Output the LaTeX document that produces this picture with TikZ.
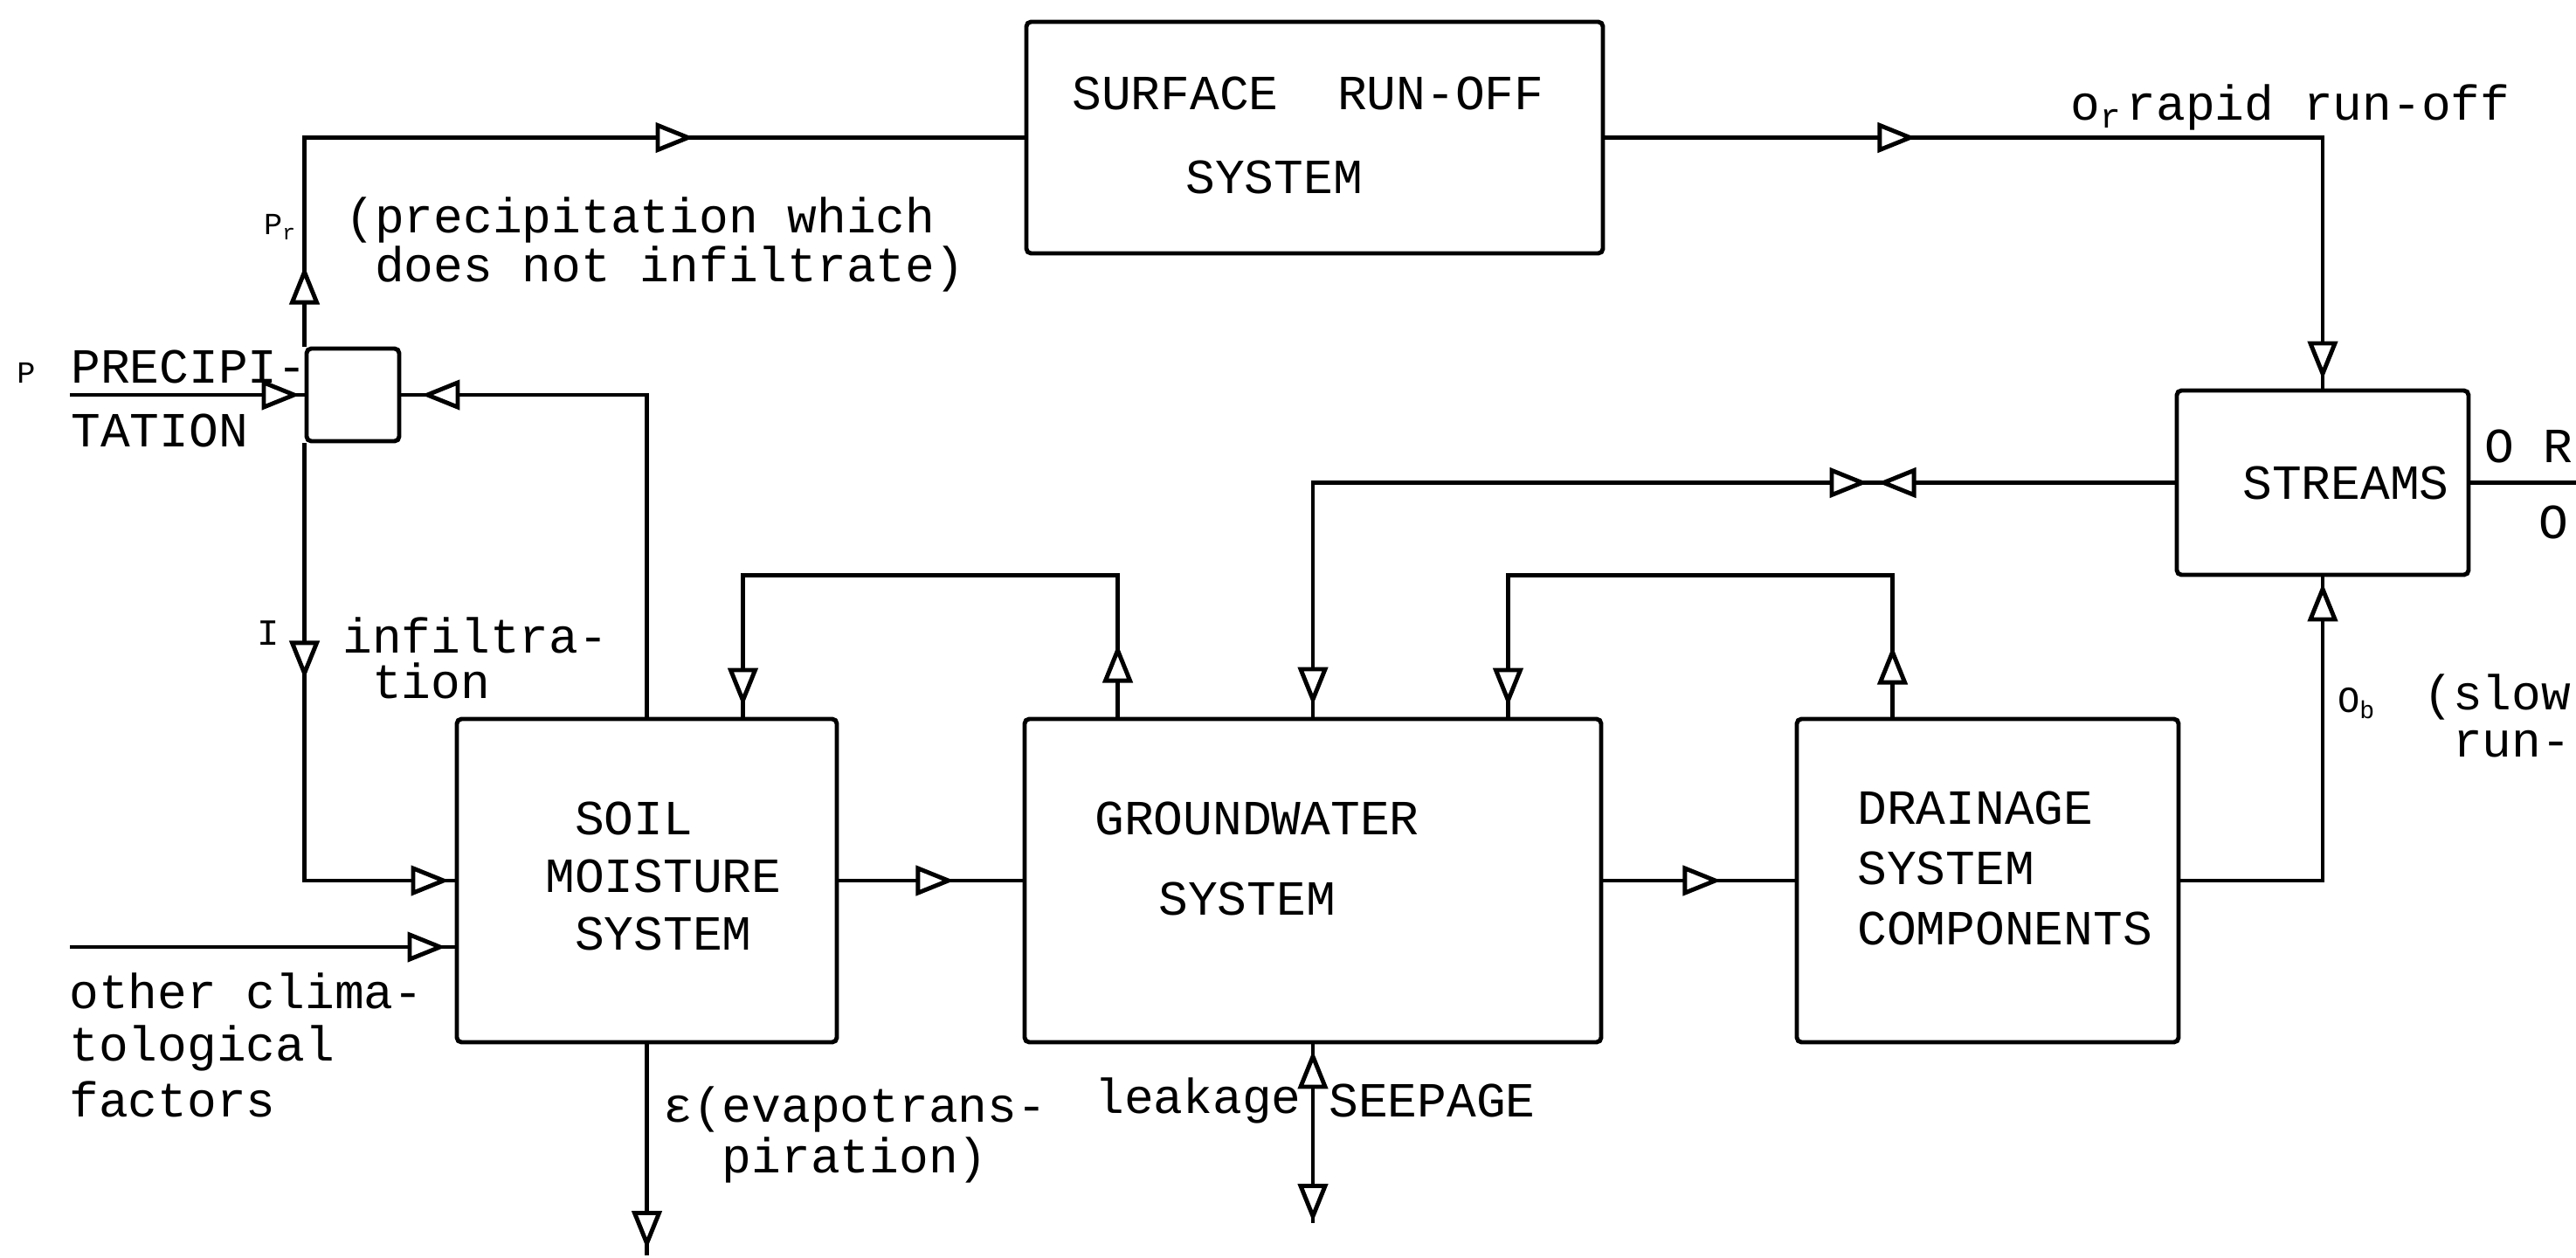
\documentclass[tikz,border=0pt]{standalone}
\usepackage{fontspec}
\newfontfamily\typewr{Liberation Mono}
\usepackage{tikz}
\usetikzlibrary{arrows.meta,calc,decorations.markings}

\newcommand{\lbfont}{\typewr\fontsize{16}{14.8}\selectfont}
\newcommand{\smfont}{\typewr\fontsize{10}{10}\selectfont}

\begin{document}
\begin{tikzpicture}[
  line width=1.4pt,
  sysbox/.style={draw, rounded corners=1.5pt, inner sep=0pt},
  txt/.style={font=\lbfont, inner sep=0pt, align=left, anchor=west},
  smalltag/.style={font=\smfont, inner sep=0pt},
  arrat/.style={postaction={decorate,decoration={markings,mark=at position #1 with {\arrow{Triangle[fill=white,length=4.4mm,width=3.4mm]}}}}},
  arrbk/.style={postaction={decorate,decoration={markings,mark=at position #1 with {\arrowreversed{Triangle[fill=white,length=4.4mm,width=3.4mm]}}}}}
]
\useasboundingbox (0,0) rectangle (29.49,14.39);

\node[sysbox, minimum width=6.6cm, minimum height=2.65cm] (surf) at (15.05,12.815) {};
\node[sysbox, minimum width=3.34cm, minimum height=2.11cm] (streams) at (26.59,8.865) {};
\node[sysbox, minimum width=4.35cm, minimum height=3.7cm] (soil) at (7.405,4.31) {};
\node[sysbox, minimum width=6.6cm, minimum height=3.7cm] (gw) at (15.03,4.31) {};
\node[sysbox, minimum width=4.37cm, minimum height=3.7cm] (drain) at (22.755,4.31) {};
\node[sysbox, minimum width=1.06cm, minimum height=1.06cm] (junc) at (4.04,9.87) {};

\node[txt] (surft) at (12.25,12.84) {SURFACE\ \ RUN-OFF\\[0.44cm]\hspace*{1.3cm}SYSTEM};
\node[txt] (streamst) at (25.65,8.86) {STREAMS};
\node[txt] (soilt) at (6.22,4.36) {\hphantom{M}SOIL\\[0.14cm]MOISTURE\\[0.14cm]\hphantom{M}SYSTEM};
\node[txt] (gwt) at (12.51,4.56) {GROUNDWATER\\[0.40cm]\hspace*{0.73cm}SYSTEM};
\node[txt] (draint) at (21.24,4.45) {DRAINAGE\\[0.17cm]SYSTEM\\[0.17cm]COMPONENTS};

\coordinate (precip) at (0.80,9.87);
\coordinate (clim) at (0.80,3.55);
\coordinate (evap) at (7.405,0.02);
\coordinate (seep) at (15.03,0.39);
\coordinate (rout) at (29.8,8.865);
\coordinate (g1) at ([xshift=1.09cm]gw.north west);
\coordinate (s1) at ([xshift=-1.10cm]soil.north east);
\coordinate (d1) at ([xshift=1.12cm]drain.north west);
\coordinate (g2) at ([xshift=-1.09cm]gw.north east);

\draw[arrat=-0.05cm] (precip) -- (junc.west);
\draw[arrat=0.92cm, arrat=6.85cm] (junc.north west) |- (surf.west);
\draw[arrat=2.70cm, arrat=-0.06cm] (junc.south west) |- (soil.west);
\draw[arrat=-0.23cm] (soil.north) |- (junc.east);
\draw[arrat=-0.10cm] (clim) -- (clim -| soil.west);
\draw[arrat=3.56cm, arrat=-0.10cm] (surf.east) -| (streams.north);
\draw[arrat=3.40cm, arrbk=3.51cm, arrat=-0.13cm] (streams.west) -| (gw.north);
\draw[arrat=1.32cm] (soil.east) -- (gw.west);
\draw[arrat=1.35cm] (gw.east) -- (drain.west);
\draw[arrat=-0.07cm] (drain.east) -| (streams.south);
\draw (streams.east) -- (rout);
\draw[arrat=0.83cm, arrat=-0.12cm] (g1) -- ++(0,1.62) -| (s1);
\draw[arrat=0.81cm, arrat=-0.12cm] (d1) -- ++(0,1.62) -| (g2);
\draw[arrat=-0.07cm] (soil.south) -- (evap);
\draw[arrbk=0.07cm, arrat=-0.01cm] (gw.south) -- (seep);

\node[smalltag] (pP) at (0.30,10.12) {P};
\node[txt] (precipl) at (0.79,9.83) {PRECIPI-\\[0.21cm]TATION};
\node[smalltag] (pPr) at (3.21,11.79) {P\textsubscript{r}};
\node[txt] (noinfl) at (3.93,11.59) {(precipitation which\\\hphantom{(}does not infiltrate)};
\node[smalltag, font=\typewr\fontsize{12}{12}\selectfont] (pI) at (3.07,7.14) {I};
\node[txt] (infl) at (3.90,6.86) {infiltra-\\\hphantom{i}tion};
\node[txt] (climl) at (0.77,2.43) {other clima-\\[0.08cm]tological\\[0.08cm]factors};
\node[txt] (evapl) at (7.57,1.40) {ε(evapotrans-\\[0.02cm]\hphantom{ε(}piration)};
\node[txt, anchor=east] (leakl) at (14.92,1.79) {leakage};
\node[txt] (seepl) at (15.19,1.79) {SEEPAGE};
\node[txt] (rapidl) at (23.68,13.16) {o\textsubscript{r}\hspace{0.05cm}rapid run-off};
\node[smalltag, font=\typewr\fontsize{12}{12}\selectfont] (pOb) at (26.98,6.34) {O\textsubscript{b}};
\node[txt] (slowl) at (27.72,6.20) {(slow\\[0.02cm]\hphantom{(}run-};
\node[txt] (outl) at (28.42,9.28) {O R};
\node[txt] (outlb) at (29.04,8.41) {O};

\end{tikzpicture}
\end{document}
